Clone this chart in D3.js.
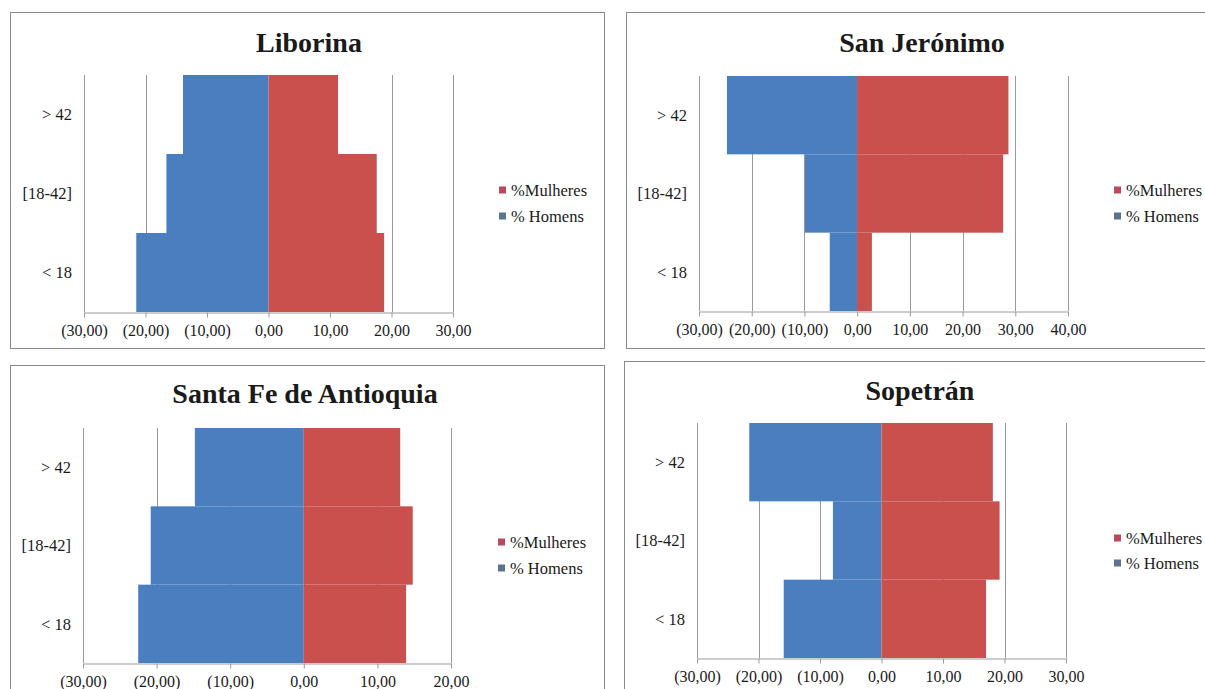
<!DOCTYPE html>
<html>
<head>
<meta charset="utf-8">
<script src="https://cdn.jsdelivr.net/npm/d3@7"></script>
<style>
  html, body { margin: 0; padding: 0; background: #ffffff; }
  svg { display: block; }
  svg text { font-family: "Liberation Serif", "Times New Roman", Times, serif !important; fill: #1a1a1a; }
</style>
</head>
<body>
<svg id="chart" width="1205" height="689"></svg>
<script>
// Age groups, listed bottom to top
const ageGroups = ["< 18", "[18-42]", "> 42"];
const seriesNames = ["%Mulheres", "% Homens"];

// Percentages per municipality (men negative, drawn to the left)
const liborinaMen = [-21.5, -16.6, -13.9];
const liborinaWomen = [18.8, 17.6, 11.3];
const sanJeronimoMen = [-5.2, -9.9, -24.7];
const sanJeronimoWomen = [2.8, 27.7, 28.7];
const santaFeMen = [-22.5, -20.8, -14.8];
const santaFeWomen = [13.9, 14.8, 13.1];
const sopetranMen = [-15.9, -7.9, -21.5];
const sopetranWomen = [17.0, 19.2, 18.1];

// Axis tick values per municipality
const liborinaTicks = [-30, -20, -10, 0, 10, 20, 30];
const sanJeronimoTicks = [-30, -20, -10, 0, 10, 20, 30, 40];
const santaFeTicks = [-30, -20, -10, 0, 10, 20];
const sopetranTicks = [-30, -20, -10, 0, 10, 20, 30];

const titles = ["Liborina", "San Jerónimo", "Santa Fe de Antioquia", "Sopetrán"];

const colors = { women: "#c9504d", men: "#4a7ebf", womenKey: "#b84a5c", menKey: "#5a7390" };
const serif = "'Liberation Serif', 'Times New Roman', Times, serif";

// Panel layout: frame, plot area, title and legend placement
const panels = [
  { title: titles[0], men: liborinaMen, women: liborinaWomen, ticks: liborinaTicks,
    frame: [10, 12, 604, 348], x0: 84, x1: 453, yTop: 75, yBot: 312,
    titleX: 309, titleY: 42, legX: 499, legY: [190, 216] },
  { title: titles[1], men: sanJeronimoMen, women: sanJeronimoWomen, ticks: sanJeronimoTicks,
    frame: [626, 12, 1215, 348], x0: 699, x1: 1068, yTop: 76, yBot: 311,
    titleX: 922, titleY: 42, legX: 1114, legY: [190, 216] },
  { title: titles[2], men: santaFeMen, women: santaFeWomen, ticks: santaFeTicks,
    frame: [10, 365, 604, 700], x0: 83, x1: 451, yTop: 428, yBot: 663,
    titleX: 305, titleY: 393, legX: 498, legY: [542, 568] },
  { title: titles[3], men: sopetranMen, women: sopetranWomen, ticks: sopetranTicks,
    frame: [624, 361, 1215, 700], x0: 697, x1: 1066, yTop: 423, yBot: 658,
    titleX: 920, titleY: 390, legX: 1114, legY: [538, 563] }
];

// Tick format: negatives in parentheses, decimal comma
function fmt(v) {
  const s = Math.abs(v).toFixed(2).replace(".", ",");
  return v < 0 ? "(" + s + ")" : s;
}

const svg = d3.select("#chart");

panels.forEach(p => {
  const g = svg.append("g").style("font-family", serif);

  // Panel frame
  g.append("rect")
    .attr("x", p.frame[0] + 0.5).attr("y", p.frame[1] + 0.5)
    .attr("width", p.frame[2] - p.frame[0]).attr("height", p.frame[3] - p.frame[1])
    .attr("fill", "#ffffff").attr("stroke", "#8a8a8a").attr("stroke-width", 1);

  const x = d3.scaleLinear()
    .domain([p.ticks[0], p.ticks[p.ticks.length - 1]])
    .range([p.x0, p.x1]);
  const y = d3.scaleBand()
    .domain(ageGroups.slice().reverse())
    .range([p.yTop, p.yBot])
    .paddingInner(0).paddingOuter(0);

  // Vertical gridlines
  g.append("g").selectAll("line").data(p.ticks).join("line")
    .attr("x1", d => Math.round(x(d)) + 0.5).attr("x2", d => Math.round(x(d)) + 0.5)
    .attr("y1", p.yTop).attr("y2", p.yBot)
    .attr("stroke", "#9a9a9a").attr("stroke-width", 1);

  // Bars
  const rows = ageGroups.map((a, i) => ({ age: a, men: p.men[i], women: p.women[i] }));
  g.append("g").selectAll("rect").data(rows).join("rect")
    .attr("x", d => x(d.men)).attr("width", d => x(0) - x(d.men))
    .attr("y", d => y(d.age)).attr("height", y.bandwidth())
    .attr("fill", colors.men);
  g.append("g").selectAll("rect").data(rows).join("rect")
    .attr("x", x(0)).attr("width", d => x(d.women) - x(0))
    .attr("y", d => y(d.age)).attr("height", y.bandwidth())
    .attr("fill", colors.women);

  // Bottom axis
  const axis = d3.axisBottom(x).tickValues(p.ticks).tickFormat(fmt).tickSize(5).tickSizeOuter(0).tickPadding(7);
  const ax = g.append("g").attr("transform", `translate(0,${p.yBot + 0.5})`).call(axis);
  ax.attr("font-family", null).attr("font-size", null);
  ax.select(".domain").attr("stroke", "#9a9a9a");
  ax.selectAll(".tick line").attr("stroke", "#9a9a9a");
  ax.selectAll(".tick text")
    .style("font-family", serif).style("font-size", "16px").attr("fill", "#1a1a1a");

  // Left axis line
  g.append("line")
    .attr("x1", Math.round(p.x0) + 0.5).attr("x2", Math.round(p.x0) + 0.5)
    .attr("y1", p.yTop).attr("y2", p.yBot)
    .attr("stroke", "#9a9a9a");

  // Category labels
  g.append("g").selectAll("text").data(ageGroups).join("text")
    .attr("x", p.x0 - 12).attr("y", d => y(d) + y.bandwidth() / 2)
    .attr("dy", "0.35em").attr("text-anchor", "end")
    .style("font-family", serif).style("font-size", "16.5px").text(d => d);

  // Title
  g.append("text")
    .attr("x", p.titleX).attr("y", p.titleY).attr("dy", "0.35em")
    .attr("text-anchor", "middle")
    .style("font-family", serif).style("font-size", "28px").style("font-weight", "bold")
    .text(p.title);

  // Legend
  const keys = [colors.womenKey, colors.menKey];
  seriesNames.forEach((name, i) => {
    g.append("rect")
      .attr("x", p.legX).attr("y", p.legY[i] - 3.5)
      .attr("width", 7).attr("height", 7).attr("fill", keys[i]);
    g.append("text")
      .attr("x", p.legX + 12).attr("y", p.legY[i]).attr("dy", "0.35em")
      .style("font-family", serif).style("font-size", "16.5px").text(name);
  });
});
</script>
</body>
</html>
